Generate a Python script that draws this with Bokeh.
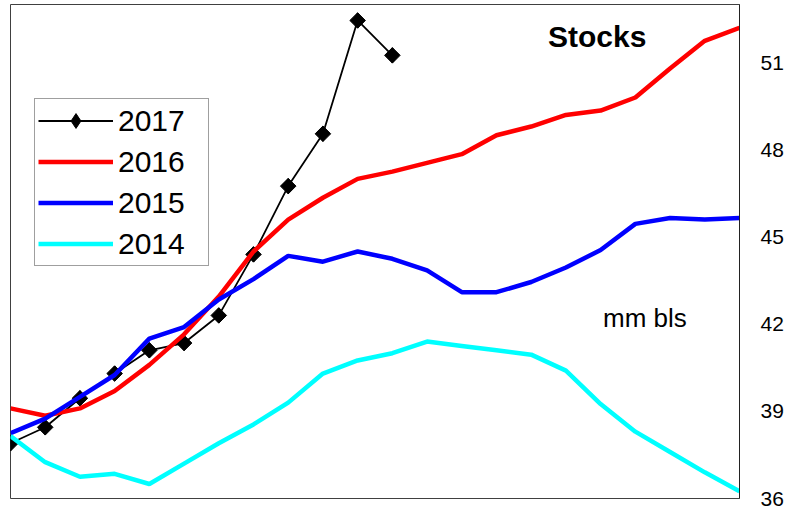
import math
from bokeh.plotting import figure
from bokeh.models import Range1d, Legend, LegendItem, Label, FixedTicker
from bokeh.embed import file_html
from bokeh.resources import INLINE

# ---- data ----
weeks = list(range(22))
y2017 = [37.9, 38.45, 39.45, 40.3, 41.1, 41.35, 42.3, 44.4, 46.75, 48.55, 52.45, 51.25]
y2016 = [39.1, 38.85, 39.1, 39.7, 40.6, 41.65, 42.95, 44.5, 45.6, 46.35, 47.0, 47.25,
         47.55, 47.85, 48.5, 48.8, 49.2, 49.35, 49.8, 50.8, 51.75, 52.2]
y2015 = [38.25, 38.75, 39.5, 40.25, 41.5, 41.9, 42.85, 43.55, 44.35, 44.15, 44.5, 44.25,
         43.85, 43.1, 43.1, 43.45, 43.95, 44.55, 45.45, 45.65, 45.6, 45.65]
y2014 = [38.15, 37.25, 36.75, 36.85, 36.5, 37.2, 37.9, 38.55, 39.3, 40.3, 40.75, 41.0,
         41.4, 41.25, 41.1, 40.95, 40.4, 39.25, 38.3, 37.6, 36.9, 36.25]
y_ticks = [36, 39, 42, 45, 48, 51]
series_names = ["2017", "2016", "2015", "2014"]
title_text = "Stocks"
unit_text = "mm  bls"

FONT = "Liberation Sans"

p = figure(width=792, height=508, output_backend="svg", toolbar_location=None,
           x_range=Range1d(0, 21), y_range=Range1d(36, 53),
           x_axis_location=None, y_axis_location="right",
           min_border_left=10, min_border_top=4, min_border_bottom=10, min_border_right=53)
p.grid.visible = False
p.outline_line_color = "#404040"
p.outline_line_width = 1
p.background_fill_color = "white"
p.border_fill_color = "white"

ax = p.yaxis[0]
ax.ticker = FixedTicker(ticks=y_ticks)
ax.major_tick_out = 0
ax.major_tick_in = 0
ax.minor_tick_out = 0
ax.minor_tick_in = 0
ax.axis_line_color = "#222222"
ax.major_label_standoff = 21
ax.major_label_text_font = FONT
ax.major_label_text_font_size = "21px"
ax.major_label_text_color = "black"

n17 = len(y2017)
r17l = p.line(weeks[:n17], y2017, line_color="black", line_width=1.8)
# diamond used for the legend swatch (hidden beneath the rotated squares in the plot)
r17d = p.scatter(weeks[:n17], y2017, marker="diamond", size=15,
                 fill_color="black", line_color="black")
r17m = p.scatter(weeks[:n17], y2017, marker="square", angle=math.pi / 4, size=11,
                 fill_color="black", line_color="black")
r16 = p.line(weeks, y2016, line_color="#FF0000", line_width=4.5)
r15 = p.line(weeks, y2015, line_color="#0000FF", line_width=4.5)
r14 = p.line(weeks, y2014, line_color="#00FFFF", line_width=4.5)

legend = Legend(items=[
    LegendItem(label=series_names[0], renderers=[r17l, r17d]),
    LegendItem(label=series_names[1], renderers=[r16]),
    LegendItem(label=series_names[2], renderers=[r15]),
    LegendItem(label=series_names[3], renderers=[r14]),
], location=(24, 232))
legend.border_line_color = "#404040"
legend.border_line_width = 1
legend.background_fill_color = "white"
legend.background_fill_alpha = 1
legend.label_text_font = FONT
legend.label_text_font_size = "30px"
legend.label_text_color = "black"
legend.padding = 3
legend.margin = 0
legend.spacing = 4
legend.glyph_width = 75
legend.glyph_height = 37
legend.label_height = 20
legend.label_standoff = 5
legend.label_width = 87
p.add_layout(legend, "center")

p.add_layout(Label(x=16.9, y=51.9, text=title_text, text_font=FONT, text_font_size="30px",
                   text_font_style="bold", text_align="center", text_baseline="alphabetic",
                   text_color="black"))
p.add_layout(Label(x=17.07, y=42.2, text=unit_text, text_font=FONT, text_font_size="26px",
                   text_align="left", text_baseline="alphabetic", text_color="black"))

open("out.html", "w").write(file_html(p, INLINE))
